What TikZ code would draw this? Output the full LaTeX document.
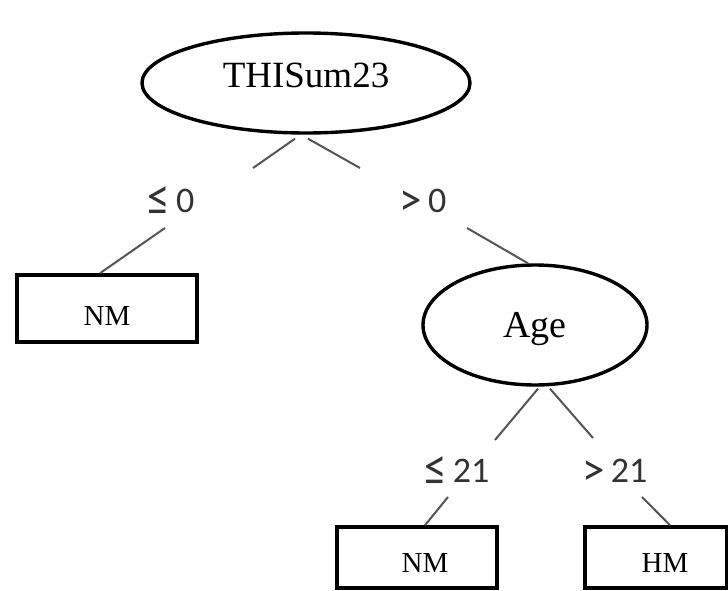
\documentclass[tikz,border=0pt]{standalone}
\usepackage{fontspec}
\usepackage{graphicx}
\setmainfont{Liberation Serif}
\newfontfamily\lblfont{Carlito}
\usetikzlibrary{shapes.geometric}
\definecolor{linegray}{HTML}{555555}
\definecolor{lblgray}{HTML}{333333}
\newcommand{\bigle}{\raisebox{-3pt}{\scalebox{1.25}[1.45]{≤}}}
\newcommand{\biggt}{\raisebox{-3pt}{\scalebox{1.25}[1.3]{>}}}
\tikzset{
  decision/.style={ellipse, draw=black, line width=3.4pt, inner sep=0pt, fill=white},
  leafbox/.style={rectangle, draw=black, line width=3.6pt, inner sep=0pt, fill=white,
    font=\fontsize{29}{32}\selectfont, text depth=0pt},
  branchlbl/.style={inner sep=0pt, text=lblgray, font=\lblfont\fontsize{36}{40}\selectfont,
    text height=23pt, text depth=0pt},
  edge/.style={draw=linegray, line width=2pt}
}
\begin{document}
\begin{tikzpicture}[x=1pt,y=-1pt]
\useasboundingbox (0,0) rectangle (728,591);
% decision nodes
\node[decision, minimum width=328pt, minimum height=100pt, font=\fontsize{37}{40}\selectfont,
  text height=25pt, text depth=16pt] (root) at (306,83) {THISum23};
\node[decision, minimum width=224pt, minimum height=120pt, font=\fontsize{38}{40}\selectfont,
  text height=24pt, text depth=0pt] (age) at (535,325) {Age};
% leaves
\node[leafbox, minimum width=180pt, minimum height=67pt, text height=33pt] (nm1) at (107,308.5) {NM};
\node[leafbox, minimum width=160pt, minimum height=61pt, text height=29pt] (nm2) at (417,557.5) {\hspace*{16pt}NM};
\node[leafbox, minimum width=142pt, minimum height=61pt, text height=29pt] (hm) at (656,557.5) {\hspace*{18pt}HM};
% branch labels
\node[branchlbl] (l1) at (171,201) {\bigle\,0};
\node[branchlbl] (l2) at (423,201) {\biggt\,0};
\node[branchlbl] (l3) at (457,471) {\bigle\,21};
\node[branchlbl] (l4) at (615,471) {\biggt\,21};
% free ends of connectors
\coordinate (a1) at (253,168);
\coordinate (a2) at (360,168);
\coordinate (b1) at (165,228);
\coordinate (b2) at (467,228);
\coordinate (c1) at (495,440);
\coordinate (c2) at (593,438);
\coordinate (d1) at (448,497);
\coordinate (d2) at (642,497);
% connectors
\draw[edge] ([xshift=-11pt,yshift=-4pt]root.south) -- (a1);
\draw[edge] ([xshift=2pt,yshift=-4pt]root.south) -- (a2);
\draw[edge] (b1) -- ([xshift=-7pt]nm1.north);
\draw[edge] (b2) -- ([xshift=-7pt]age.north);
\draw[edge] ([xshift=3pt,yshift=-2pt]age.south) -- (c1);
\draw[edge] ([xshift=15pt,yshift=-2pt]age.south) -- (c2);
\draw[edge] (d1) -- ([xshift=8pt]nm2.north);
\draw[edge] (d2) -- ([xshift=14pt]hm.north);
\end{tikzpicture}
\end{document}
